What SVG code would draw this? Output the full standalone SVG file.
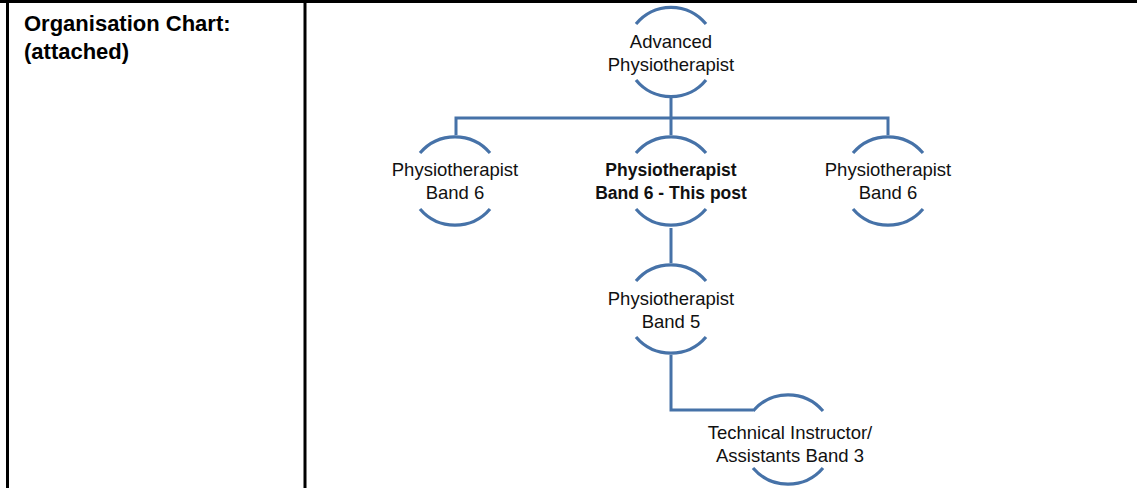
<svg xmlns="http://www.w3.org/2000/svg" width="1137" height="488" viewBox="0 0 1137 488">
<style>
.b{stroke:#000;stroke-width:3;fill:none}
.arc{stroke:#4672A8;stroke-width:3.2;fill:none;stroke-linecap:butt}
.c{stroke:#4672A8;stroke-width:3;fill:none}
.t{font-family:"Liberation Sans",Arial,sans-serif;font-size:18.5px;fill:#111;text-anchor:middle}
.tb{font-weight:bold;font-size:17.5px}
.h{font-family:"Liberation Sans",Arial,sans-serif;font-size:22px;font-weight:bold;fill:#000}
</style>
<rect width="1137" height="488" fill="#fff"/>
<g id="table">
<line class="b" x1="0" y1="1.5" x2="1137" y2="1.5"/>
<line class="b" x1="7.5" y1="0" x2="7.5" y2="488"/>
<line class="b" x1="305" y1="0" x2="305" y2="488"/>
<text class="h" x="24" y="31">Organisation Chart:</text>
<text class="h" x="24" y="59">(attached)</text>
</g>
<g id="connectors">
<path class="c" d="M671 97 V118 M456 135 V118 H888 V135 M671 118 V135 M671 228 V263 M671 355 V410 H753"/>
</g>
<g id="n1">
<path class="arc" d="M636 24 A45 45 0 0 1 706 24 M636 80 A45 45 0 0 0 706 80"/>
<text class="t" x="671" y="48">Advanced</text>
<text class="t" x="671" y="71">Physiotherapist</text>
</g>
<g id="n2">
<path class="arc" d="M420 153 A46 46 0 0 1 490 153 M420 209 A46 46 0 0 0 490 209"/>
<text class="t" x="455" y="176">Physiotherapist</text>
<text class="t" x="455" y="199">Band 6</text>
</g>
<g id="n3">
<path class="arc" d="M636 153 A46 46 0 0 1 706 153 M636 209 A46 46 0 0 0 706 209"/>
<text class="t tb" x="671" y="176">Physiotherapist</text>
<text class="t tb" x="671" y="199">Band 6 - This post</text>
</g>
<g id="n4">
<path class="arc" d="M853 153 A46 46 0 0 1 923 153 M853 209 A46 46 0 0 0 923 209"/>
<text class="t" x="888" y="176">Physiotherapist</text>
<text class="t" x="888" y="199">Band 6</text>
</g>
<g id="n5">
<path class="arc" d="M636 281 A46 46 0 0 1 706 281 M636 337 A46 46 0 0 0 706 337"/>
<text class="t" x="671" y="305">Physiotherapist</text>
<text class="t" x="671" y="328">Band 5</text>
</g>
<g id="n6">
<path class="arc" d="M753 411 A46 46 0 0 1 823 411 M753 468 A46 46 0 0 0 823 468"/>
<text class="t" x="790" y="439">Technical Instructor/</text>
<text class="t" x="790" y="462">Assistants Band 3</text>
</g>
</svg>
